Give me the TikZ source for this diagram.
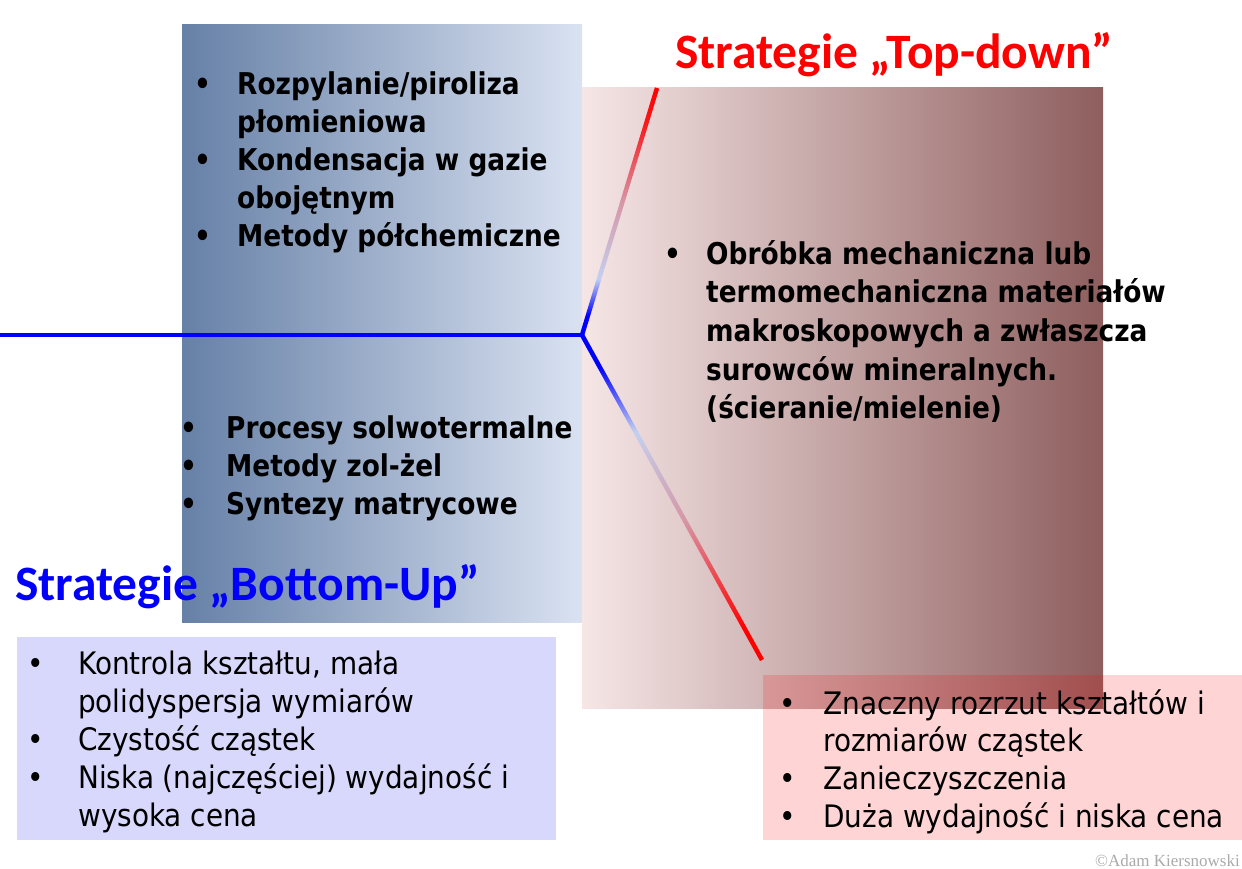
\documentclass[tikz,border=0pt]{standalone}
\usepackage{fontspec}
\usetikzlibrary{calc}
\newfontfamily\bodyfont[FakeStretch=0.9]{DejaVu Sans}
\newfontfamily\boldbody[FakeStretch=0.88]{DejaVu Sans}
\newfontfamily\titlefont{Carlito}
\newfontfamily\notefont{Liberation Serif}

\definecolor{bluedark}{RGB}{102,128,166}
\definecolor{bluelight}{RGB}{218,226,242}
\definecolor{rosel}{RGB}{246,230,230}
\definecolor{rosed}{RGB}{142,94,94}
\definecolor{lavender}{RGB}{216,216,252}
\definecolor{linelb}{RGB}{196,208,240}
\definecolor{linepk}{RGB}{214,150,166}
\definecolor{titlered}{RGB}{255,0,0}
\definecolor{titleblue}{RGB}{0,0,250}
\definecolor{notegray}{RGB}{170,170,170}

% colour runs along the two branches (bbox maps to 25bp..75bp)
\pgfdeclareverticalshading{upgrad}{100bp}{color(0bp)=(blue); color(25bp)=(blue); color(29bp)=(blue); color(36.5bp)=(linelb); color(52bp)=(linepk); color(68bp)=(red!85!linepk); color(75bp)=(red); color(100bp)=(red)}
\pgfdeclareverticalshading{downgrad}{100bp}{color(0bp)=(red); color(25bp)=(red); color(30bp)=(red); color(46.5bp)=(linepk); color(60bp)=(linelb); color(70bp)=(blue); color(75bp)=(blue); color(100bp)=(blue)}

\tikzset{
  bodybold/.style={anchor=base west, inner sep=0pt, text=black,
    font=\boldbody\bfseries\fontsize{30}{38}\selectfont},
  bodyreg/.style={anchor=base west, inner sep=0pt, text=black,
    font=\bodyfont\fontsize{31}{38.2}\selectfont},
  titletext/.style={anchor=base west, inner sep=0pt,
    font=\titlefont\bfseries\fontsize{49.5}{56}\selectfont},
}

\begin{document}
\begin{tikzpicture}[x=1pt,y=-1pt]
\useasboundingbox (0,0) rectangle (1242,869);
\clip (0,0) rectangle (1242,869);

% background panels
\shade[left color=bluedark, right color=bluelight] (182,25) rectangle (582,622);
\shade[left color=rosel, right color=rosed] (582,88) rectangle (1103,708);
\fill[lavender] (17,637) rectangle (556,840);

% branching line
\coordinate (west) at (0,335);
\coordinate (fork) at (582,335);
\coordinate (topend) at (657,88);
\coordinate (botend) at (762,660);
\draw[blue, line width=4.5pt] (west) -- (fork);
\shade[shading=upgrad]
  ($(fork)!2.25pt!90:(topend)$) -- ($(topend)!2.25pt!-90:(fork)$) --
  ($(topend)!2.25pt!90:(fork)$) -- ($(fork)!2.25pt!-90:(topend)$) -- cycle;
\shade[shading=downgrad]
  ($(fork)!2.25pt!90:(botend)$) -- ($(botend)!2.25pt!-90:(fork)$) --
  ($(botend)!2.25pt!90:(fork)$) -- ($(fork)!2.25pt!-90:(botend)$) -- cycle;
\fill[blue] (fork) circle (2.25pt);

% titles
\node[titletext, text=titlered] (toptitle) at (675,69) {Strategie „Top-down”};
\node[titletext, text=titleblue] (bottitle) at (15,600) {Strategie „Bottom-Up”};

% gas-phase / physical methods
\node[bodybold] (gasmeth) at (194,95) {\begin{tabular}[t]{@{}p{43pt}@{}l@{}}
• & Rozpylanie/piroliza\\
  & płomieniowa\\
• & Kondensacja w gazie\\
  & obojętnym\\
• & Metody półchemiczne
\end{tabular}};

% liquid-phase methods
\node[bodybold] (liqmeth) at (180,438) {\begin{tabular}[t]{@{}p{46pt}@{}l@{}}
• & Procesy solwotermalne\\
• & Metody zol-żel\\
• & Syntezy matrycowe
\end{tabular}};

% top-down methods
\node[bodybold, font=\boldbody\bfseries\fontsize{30}{38.7}\selectfont] (mechmeth) at (664,264) {\begin{tabular}[t]{@{}p{42pt}@{}l@{}}
• & Obróbka mechaniczna lub\\
  & termomechaniczna materiałów\\
  & makroskopowych a zwłaszcza\\
  & surowców mineralnych.\\
  & (ścieranie/mielenie)
\end{tabular}};

% features of bottom-up
\node[bodyreg] (bufeat) at (27,674) {\begin{tabular}[t]{@{}p{51pt}@{}l@{}}
• & Kontrola kształtu, mała\\
  & polidyspersja wymiarów\\
• & Czystość cząstek\\
• & Niska (najczęściej) wydajność i\\
  & wysoka cena
\end{tabular}};

% features of top-down
\fill[red, fill opacity=0.17] (763,675) rectangle (1242,840);
\node[bodyreg, font=\bodyfont\fontsize{31}{37.7}\selectfont] (tdfeat) at (779,714) {\begin{tabular}[t]{@{}p{44pt}@{}l@{}}
• & Znaczny rozrzut kształtów i\\
  & rozmiarów cząstek\\
• & Zanieczyszczenia\\
• & Duża wydajność i niska cena
\end{tabular}};

% author note
\node[anchor=base east, inner sep=0pt, text=notegray, font=\notefont\fontsize{17}{20}\selectfont] (author) at (1240,866) {©Adam Kiersnowski};
\end{tikzpicture}
\end{document}
